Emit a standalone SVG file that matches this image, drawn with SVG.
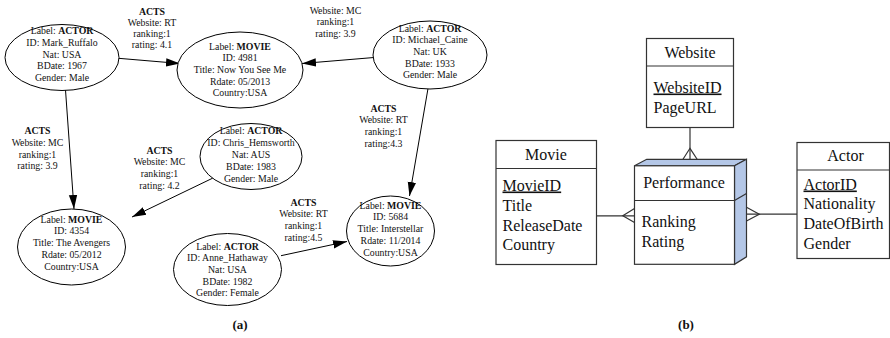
<svg xmlns="http://www.w3.org/2000/svg" width="890" height="338" viewBox="0 0 890 338" font-family="'Liberation Serif', 'Times New Roman', 'DejaVu Serif', serif">
  <style>
    .node ellipse { fill: #ffffff; stroke: #000000; stroke-width: 1; }
    .gt { font-size: 9.8px; fill: #111111; text-anchor: middle; }
    .b { font-weight: bold; }
    .edge { stroke: #000000; stroke-width: 1; fill: none; marker-end: url(#arrow); }
    .elabel { font-size: 9.8px; fill: #111111; text-anchor: middle; }
    .ent rect { fill: #ffffff; stroke: #333333; stroke-width: 1.2; }
    .ent line { stroke: #333333; stroke-width: 1.2; }
    .et { font-size: 16px; fill: #111111; }
    .hd { text-anchor: middle; }
    .pk { text-decoration: underline; }
    .rel { stroke: #333333; stroke-width: 1.2; fill: none; }
    .cap { font-size: 13px; font-weight: bold; fill: #111111; text-anchor: middle; }
  </style>
  <defs>
    <marker id="arrow" markerWidth="14" markerHeight="10" refX="14" refY="5" orient="auto" markerUnits="userSpaceOnUse">
      <path d="M0,0.8 L14,5 L0,9.2 Z" fill="#000000"/>
    </marker>
  </defs>

  <!-- (a) property graph -->
  <g id="connectors">
    <line class="edge" x1="115" y1="58" x2="180" y2="63.5"/>
    <line class="edge" x1="380" y1="57" x2="302" y2="63.5"/>
    <line class="edge" x1="65.5" y1="90" x2="74" y2="209"/>
    <line class="edge" x1="213" y1="178" x2="132" y2="217"/>
    <line class="edge" x1="428" y1="88.5" x2="409.5" y2="196"/>
    <line class="edge" x1="281" y1="255.7" x2="347" y2="241.5"/>

    <text class="elabel" x="152" y="14.5"><tspan class="b">ACTS</tspan><tspan x="152" dy="11.5">Website: RT</tspan><tspan x="152" dy="11.2">ranking:1</tspan><tspan x="152" dy="11.2">rating: 4.1</tspan></text>
    <text class="elabel" x="335.5" y="13.5">Website: MC<tspan x="335.5" dy="11.5">ranking:1</tspan><tspan x="335.5" dy="11.5">rating: 3.9</tspan></text>
    <text class="elabel" x="37.5" y="134"><tspan class="b">ACTS</tspan><tspan x="37.5" dy="12">Website: MC</tspan><tspan x="37.5" dy="11.7">ranking:1</tspan><tspan x="37.5" dy="11.7">rating: 3.9</tspan></text>
    <text class="elabel" x="159.5" y="153.5"><tspan class="b">ACTS</tspan><tspan x="159.5" dy="11.7">Website: MC</tspan><tspan x="159.5" dy="11.7">ranking:1</tspan><tspan x="159.5" dy="11.7">rating: 4.2</tspan></text>
    <text class="elabel" x="383.5" y="111.5"><tspan class="b">ACTS</tspan><tspan x="383.5" dy="11.7">Website: RT</tspan><tspan x="383.5" dy="11.7">ranking:1</tspan><tspan x="383.5" dy="11.7">rating:4.3</tspan></text>
    <text class="elabel" x="303.5" y="205.5"><tspan class="b">ACTS</tspan><tspan x="303.5" dy="11.8">Website: RT</tspan><tspan x="303.5" dy="11.8">ranking:1</tspan><tspan x="303.5" dy="11.8">rating:4.5</tspan></text>
  </g>

  <g id="actor-mark-ruffalo" class="node">
    <ellipse cx="62" cy="57.5" rx="57" ry="33"/>
    <text class="gt" x="62" y="34">Label: <tspan class="b">ACTOR</tspan><tspan x="62" dy="11.8">ID: Mark_Ruffalo</tspan><tspan x="62" dy="11.8">Nat: USA</tspan><tspan x="62" dy="11.8">BDate: 1967</tspan><tspan x="62" dy="11.8">Gender: Male</tspan></text>
  </g>

  <g id="movie-4981" class="node">
    <ellipse cx="240" cy="70" rx="63" ry="38"/>
    <text class="gt" x="240" y="49.5">Label: <tspan class="b">MOVIE</tspan><tspan x="240" dy="11.7">ID: 4981</tspan><tspan x="240" dy="11.7">Title: Now You See Me</tspan><tspan x="240" dy="11.7">Rdate: 05/2013</tspan><tspan x="240" dy="11.7">Country:USA</tspan></text>
  </g>

  <g id="actor-michael-caine" class="node">
    <ellipse cx="430" cy="55" rx="57" ry="34"/>
    <text class="gt" x="430" y="31.5">Label: <tspan class="b">ACTOR</tspan><tspan x="430" dy="11.7">ID: Michael_Caine</tspan><tspan x="430" dy="11.7">Nat: UK</tspan><tspan x="430" dy="11.7">BDate: 1933</tspan><tspan x="430" dy="11.7">Gender: Male</tspan></text>
  </g>

  <g id="actor-chris-hemsworth" class="node">
    <ellipse cx="251" cy="156.5" rx="51" ry="33"/>
    <text class="gt" x="251" y="134">Label: <tspan class="b">ACTOR</tspan><tspan x="251" dy="12">ID: Chris_Hemsworth</tspan><tspan x="251" dy="12">Nat: AUS</tspan><tspan x="251" dy="12">BDate: 1983</tspan><tspan x="251" dy="12">Gender: Male</tspan></text>
  </g>

  <g id="movie-4354" class="node">
    <ellipse cx="71.5" cy="247" rx="54" ry="38"/>
    <text class="gt" x="71.5" y="222.5">Label: <tspan class="b">MOVIE</tspan><tspan x="71.5" dy="11.8">ID: 4354</tspan><tspan x="71.5" dy="11.8">Title: The Avengers</tspan><tspan x="71.5" dy="11.8">Rdate: 05/2012</tspan><tspan x="71.5" dy="11.8">Country:USA</tspan></text>
  </g>

  <g id="movie-5684" class="node">
    <ellipse cx="390.5" cy="231" rx="44" ry="35"/>
    <text class="gt" x="390.5" y="208.5">Label: <tspan class="b">MOVIE</tspan><tspan x="390.5" dy="11.8">ID: 5684</tspan><tspan x="390.5" dy="11.8">Title: Interstellar</tspan><tspan x="390.5" dy="11.8">Rdate: 11/2014</tspan><tspan x="390.5" dy="11.8">Country:USA</tspan></text>
  </g>

  <g id="actor-anne-hathaway" class="node">
    <ellipse cx="227.5" cy="269.5" rx="54" ry="36"/>
    <text class="gt" x="227.5" y="249.5">Label: <tspan class="b">ACTOR</tspan><tspan x="227.5" dy="11.7">ID: Anne_Hathaway</tspan><tspan x="227.5" dy="11.7">Nat: USA</tspan><tspan x="227.5" dy="11.7">BDate: 1982</tspan><tspan x="227.5" dy="11.7">Gender: Female</tspan></text>
  </g>

  <text class="cap" x="240" y="329">(a)</text>

  <!-- (b) ER model -->
  <g id="er-relations">
    <!-- Website 1 : N Performance -->
    <line class="rel" x1="690" y1="127.5" x2="690" y2="159.5"/>
    <path class="rel" d="M682.8,159.5 L690,148.3 L697.3,159.5"/>
    <!-- Movie 1 : N Performance -->
    <line class="rel" x1="596.5" y1="215.8" x2="634.5" y2="215.8"/>
    <path class="rel" d="M634.5,208.5 L622.8,215.8 L634.5,222.5"/>
    <!-- Actor 1 : N Performance -->
    <line class="rel" x1="746.5" y1="214.2" x2="797" y2="214.2"/>
    <path class="rel" d="M746.5,207.3 L759.3,214.2 L746.5,221"/>
  </g>

  <g id="entity-website" class="ent">
    <rect x="646.5" y="38.5" width="87" height="89"/>
    <line x1="646.5" y1="66" x2="733.5" y2="66"/>
    <text class="et hd" x="690" y="57.5">Website</text>
    <text class="et pk" x="653.5" y="92.5">WebsiteID</text>
    <text class="et" x="653.5" y="112.5">PageURL</text>
  </g>

  <g id="entity-movie" class="ent">
    <rect x="496" y="140.5" width="100.5" height="124"/>
    <line x1="496" y1="168.5" x2="596.5" y2="168.5"/>
    <text class="et hd" x="546" y="159.5">Movie</text>
    <text class="et pk" x="502.5" y="190.5">MovieID</text>
    <text class="et" x="502.5" y="210.5">Title</text>
    <text class="et" x="502.5" y="230.5">ReleaseDate</text>
    <text class="et" x="502.5" y="250">Country</text>
  </g>

  <g id="entity-performance" class="ent">
    <path d="M634.5,165.8 L646.7,159.3 L746.5,159.3 L734.5,165.8 Z" fill="#b4c7e7" stroke="#333333" stroke-width="1.2"/>
    <path d="M734.5,165.8 L746.5,159.3 L746.5,256.8 L734.5,264.3 Z" fill="#b4c7e7" stroke="#333333" stroke-width="1.2"/>
    <line x1="734.5" y1="200.5" x2="746.5" y2="193.5"/>
    <rect x="634.5" y="165.8" width="100" height="98.5"/>
    <line x1="634.5" y1="200.5" x2="734.5" y2="200.5"/>
    <text class="et hd" x="684" y="188">Performance</text>
    <text class="et" x="641.5" y="226.5">Ranking</text>
    <text class="et" x="641.5" y="246.5">Rating</text>
  </g>

  <g id="entity-actor" class="ent">
    <rect x="797" y="142.5" width="92.5" height="116"/>
    <line x1="797" y1="170" x2="889.5" y2="170"/>
    <text class="et hd" x="845.5" y="161">Actor</text>
    <text class="et pk" x="803.5" y="189.5">ActorID</text>
    <text class="et" x="803.5" y="209">Nationality</text>
    <text class="et" x="803.5" y="229">DateOfBirth</text>
    <text class="et" x="803.5" y="248.5">Gender</text>
  </g>

  <text class="cap" x="686" y="329">(b)</text>
</svg>
